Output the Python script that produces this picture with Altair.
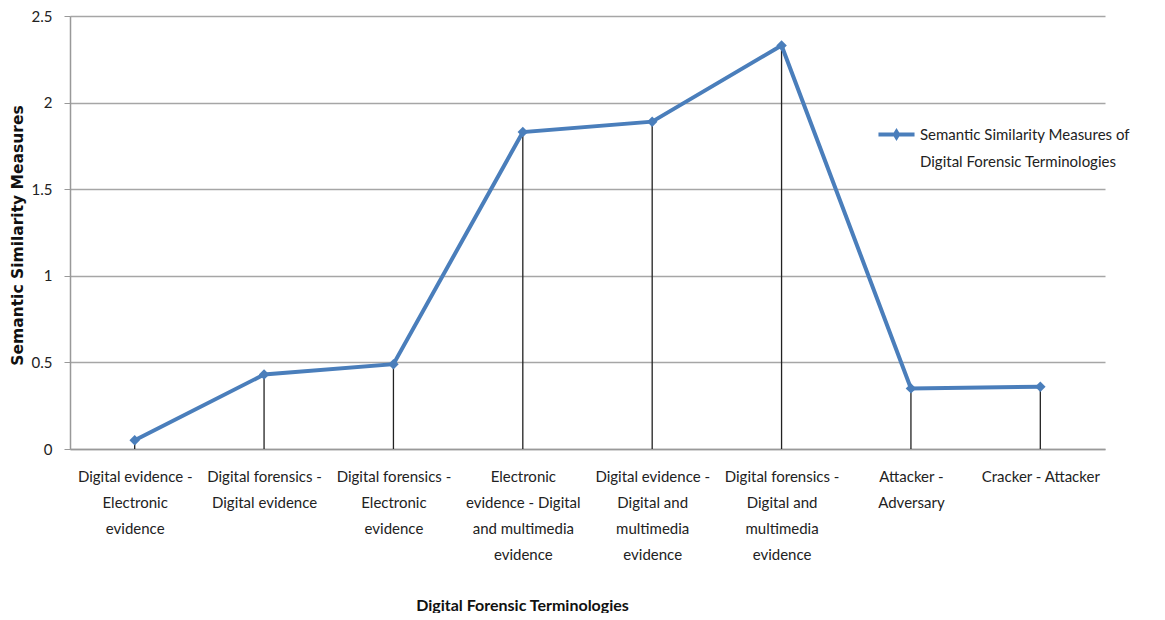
import altair as alt
import pandas as pd

categories = [
    "Digital evidence -\nElectronic\nevidence",
    "Digital forensics -\nDigital evidence",
    "Digital forensics -\nElectronic\nevidence",
    "Electronic\nevidence - Digital\nand multimedia\nevidence",
    "Digital evidence -\nDigital and\nmultimedia\nevidence",
    "Digital forensics -\nDigital and\nmultimedia\nevidence",
    "Attacker -\nAdversary",
    "Cracker - Attacker",
]
values = [0.05, 0.43, 0.49, 1.83, 1.89, 2.33, 0.35, 0.36]
series_name = "Semantic Similarity Measures of\nDigital Forensic Terminologies"
y_ticks = [0, 0.5, 1, 1.5, 2, 2.5]

df = pd.DataFrame({"term": categories, "value": values, "series": series_name})

FONT = "Lato"
BLUE = "#4a7ebb"

x_enc = alt.X(
    "term:N",
    sort=None,
    scale=alt.Scale(type="point", padding=0.5),
    axis=alt.Axis(
        title="Digital Forensic Terminologies",
        titleFont=FONT,
        titleFontSize=16,
        titleFontWeight="bold",
        titleColor="#111",
        titleX=452,
        titleY=156,
        titleBaseline="middle",
        labelExpr="split(datum.label, '\\n')",
        labelAngle=0,
        labelFont=FONT,
        labelFontSize=15,
        labelLineHeight=26,
        labelColor="#222",
        labelPadding=20,
        labelBaseline="top",
        ticks=False,
        grid=False,
        domainColor="#999999",
        domainWidth=1.5,
    ),
)

y_scale = alt.Scale(domain=[0, 2.5], nice=False, zero=True)

base = alt.Chart(df)

drops = base.mark_rule(color="#222222", strokeWidth=1.3).encode(
    x=x_enc,
    y=alt.Y(
        "value:Q",
        scale=y_scale,
        axis=alt.Axis(
            values=y_ticks,
            format="~g",
            title="Semantic Similarity Measures",
            titleFont="DejaVu Sans",
            titleFontSize=15.5,
            titleFontWeight="bold",
            titleColor="#111",
            titleAngle=270,
            titleX=-53,
            titleY=219,
            titleAlign="center",
            titleBaseline="middle",
            labelFont=FONT,
            labelFontSize=15,
            labelColor="#222",
            labelPadding=12,
            tickSize=6,
            tickColor="#999999",
            gridColor="#a6a6a6",
            gridWidth=1.3,
            domainColor="#999999",
            domainWidth=1.5,
        ),
    ),
    y2=alt.datum(0),
)

line = base.mark_line(color=BLUE, strokeWidth=4).encode(
    x=alt.X("term:N", sort=None),
    y=alt.Y("value:Q", scale=y_scale),
)

points = base.mark_point(shape="diamond", filled=True, size=110, opacity=1).encode(
    x=alt.X("term:N", sort=None),
    y=alt.Y("value:Q", scale=y_scale),
    color=alt.Color(
        "series:N",
        scale=alt.Scale(range=[BLUE]),
        legend=alt.Legend(
            title=None,
            orient="none",
            legendX=808,
            legendY=105,
            symbolType="M-1,-0.39 L1,-0.39 L1,-0.17 L-1,-0.17 Z M0,-0.64 L0.22,-0.28 L0,0.08 L-0.22,-0.28 Z",
            symbolSize=1300,
            symbolStrokeWidth=0,
            symbolFillColor=BLUE,
            symbolOpacity=1,
            labelExpr="split(datum.label, '\\n')",
            labelBaseline="alphabetic",
            labelFont=FONT,
            labelFontSize=15,
            labelColor="#222",
            labelOffset=5,
            labelLimit=400,
        ),
    ),
)

chart = (
    alt.layer(drops, line, points)
    .properties(
        width=1035,
        height=433,
        autosize=alt.AutoSizeParams(type="none"),
        padding={"left": 62, "top": 8, "right": 50, "bottom": 164},
        background="white",
    )
    .configure(
        view=alt.ViewConfig(strokeWidth=0),
        style={"guide-label": {"lineHeight": 27}},
    )
)

chart.save("out.html", embed_options={"renderer": "svg", "actions": False})
